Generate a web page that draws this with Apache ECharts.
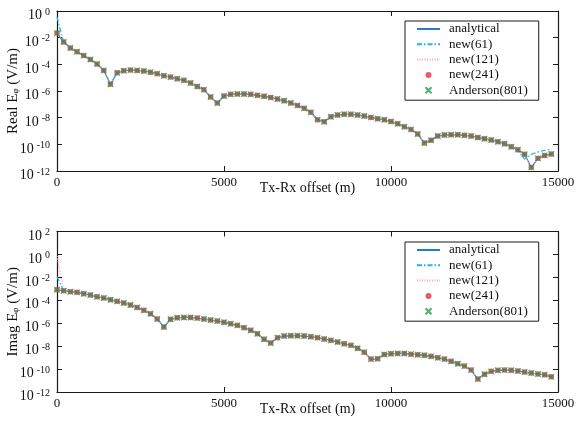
<!DOCTYPE html>
<html>
<head>
<meta charset="utf-8">
<script src="https://cdn.jsdelivr.net/npm/echarts@6/dist/echarts.min.js"></script>
<style>
  html, body { margin: 0; padding: 0; background: #fff; }
  #chart { width: 583px; height: 421px; }
</style>
</head>
<body>
<div id="chart"></div>
<script>
// Transmitter-receiver offsets (m)
const offsets = [
  0, 200, 400, 600, 800, 1000, 1200, 1400, 1600, 1800,
  2000, 2200, 2400, 2600, 2800, 3000, 3200, 3400, 3600, 3800,
  4000, 4200, 4400, 4600, 4800, 5000, 5200, 5400, 5600, 5800,
  6000, 6200, 6400, 6600, 6800, 7000, 7200, 7400, 7600, 7800,
  8000, 8200, 8400, 8600, 8800, 9000, 9200, 9400, 9600, 9800,
  10000, 10200, 10400, 10600, 10800, 11000, 11200, 11400, 11600, 11800,
  12000, 12200, 12400, 12600, 12800, 13000, 13200, 13400, 13600, 13800,
  14000, 14200, 14400, 14600, 14800
];

// Real part of E-phi (V/m), analytical solution
const realAnalytical = [
  2.2e-2, 4.7e-3, 1.7e-3, 8.9e-4, 4.5e-4, 2.3e-4, 1.05e-4, 3.5e-5, 3.2e-6, 2.3e-5,
  3.3e-5, 3.7e-5, 3.5e-5, 3.2e-5, 2.6e-5, 2.0e-5, 1.4e-5, 1.1e-5, 8.3e-6, 6.3e-6,
  4.0e-6, 2.2e-6, 1.26e-6, 3.5e-7, 1.26e-7, 4.2e-7, 5.6e-7, 5.9e-7, 5.9e-7, 5.6e-7,
  4.7e-7, 4.0e-7, 3.2e-7, 2.5e-7, 1.86e-7, 1.26e-7, 8.3e-8, 5.0e-8, 2.5e-8, 7.1e-9,
  5.0e-9, 1.17e-8, 1.58e-8, 1.78e-8, 1.78e-8, 1.58e-8, 1.32e-8, 1.05e-8, 8.3e-9, 6.9e-9,
  5.1e-9, 3.5e-9, 2.1e-9, 1.32e-9, 5.9e-10, 1.26e-10, 2.0e-10, 4.2e-10, 5.0e-10, 5.2e-10,
  5.2e-10, 4.7e-10, 4.2e-10, 3.3e-10, 2.6e-10, 2.1e-10, 1.58e-10, 1.12e-10, 6.6e-11, 4.0e-11,
  1.78e-11, 1.86e-12, 8.9e-12, 1.48e-11, 1.86e-11
];
// Digital-filter results for the real part
const realNew61 = [
  3.5e-1, 4.7e-3, 1.7e-3, 8.9e-4, 4.5e-4, 2.3e-4, 1.05e-4, 3.5e-5, 3.2e-6, 2.3e-5,
  3.3e-5, 3.7e-5, 3.5e-5, 3.2e-5, 2.6e-5, 2.0e-5, 1.4e-5, 1.1e-5, 8.3e-6, 6.3e-6,
  4.0e-6, 2.2e-6, 1.26e-6, 3.5e-7, 1.26e-7, 4.2e-7, 5.6e-7, 5.9e-7, 5.9e-7, 5.6e-7,
  4.7e-7, 4.0e-7, 3.2e-7, 2.5e-7, 1.86e-7, 1.26e-7, 8.3e-8, 5.0e-8, 2.5e-8, 7.1e-9,
  5.0e-9, 1.17e-8, 1.58e-8, 1.78e-8, 1.78e-8, 1.58e-8, 1.32e-8, 1.05e-8, 8.3e-9, 6.9e-9,
  5.1e-9, 3.5e-9, 2.1e-9, 1.32e-9, 5.9e-10, 1.26e-10, 2.0e-10, 4.2e-10, 5.0e-10, 5.2e-10,
  5.2e-10, 4.7e-10, 4.2e-10, 3.3e-10, 2.6e-10, 2.1e-10, 1.58e-10, 1.12e-10, 6.6e-11, 3.2e-11,
  7.9e-12, 1.78e-11, 2.7e-11, 3.5e-11, 4.2e-11
];
const realNew121 = realAnalytical;
const realNew241 = realAnalytical;
const realAnderson = realAnalytical;

// Imaginary part of E-phi (V/m), analytical solution
const imagAnalytical = [
  8.3e-4, 6.9e-4, 5.6e-4, 4.9e-4, 3.7e-4, 2.9e-4, 2.0e-4, 1.58e-4, 1.12e-4, 8.1e-5,
  5.8e-5, 3.9e-5, 2.4e-5, 1.32e-5, 6.8e-6, 2.3e-6, 4.7e-7, 2.2e-6, 3.0e-6, 3.2e-6,
  3.2e-6, 2.8e-6, 2.3e-6, 1.9e-6, 1.55e-6, 1.23e-6, 8.9e-7, 6.5e-7, 4.1e-7, 2.4e-7,
  1.2e-7, 4.0e-8, 1.86e-8, 5.5e-8, 7.6e-8, 8.1e-8, 8.1e-8, 7.6e-8, 6.6e-8, 5.5e-8,
  4.2e-8, 3.2e-8, 2.3e-8, 1.62e-8, 1.17e-8, 6.5e-9, 3.0e-9, 7.4e-10, 7.9e-10, 1.86e-9,
  2.2e-9, 2.3e-9, 2.3e-9, 2.0e-9, 1.78e-9, 1.58e-9, 1.29e-9, 9.8e-10, 7.4e-10, 4.7e-10,
  2.9e-10, 1.82e-10, 8.1e-11, 1.35e-11, 3.5e-11, 6.3e-11, 7.8e-11, 8.1e-11, 7.8e-11, 6.8e-11,
  5.5e-11, 4.5e-11, 3.7e-11, 3.2e-11, 2.1e-11
];
// Digital-filter results for the imaginary part (they differ only at zero offset)
const imagNew61Near = 1.15e-2;
const imagNew121Near = 7.0e-1;
const imagNew61 = [imagNew61Near].concat(imagAnalytical.slice(1));
const imagNew121 = [imagNew121Near].concat(imagAnalytical.slice(1));
const imagNew241 = imagAnalytical;
const imagAnderson = imagAnalytical;

// Axis ranges and tick values
const xTicks = [0, 5000, 10000, 15000];
const realRange = [1e-12, 1e0];
const imagRange = [1e-12, 1e2];

const names = ['analytical', 'new(61)', 'new(121)', 'new(241)', 'Anderson(801)'];
const colors = {
  analytical: '#2878cc',
  n61: '#22b2ec',
  n121: '#f4a3c6',
  n241: '#e5304a',
  anderson: '#1f9e45'
};

const FONT = '"Liberation Serif", "Times New Roman", serif';
const CROSS = 'path://M0,0L10,10M10,0L0,10';

function pairs(xs, ys) { return xs.map((x, i) => [x, ys[i]]); }

function expLabel(v) {
  const e = Math.round(Math.log10(v));
  return '{b|10}{s|' + e + '}';
}

const labelRich = {
  b: { fontFamily: FONT, fontSize: 14, color: '#111', padding: [9, 0, 0, 0] },
  s: { fontFamily: FONT, fontSize: 10, color: '#111', padding: [2, 0, 0, 3] }
};

function xAxes(grid) {
  const common = {
    type: 'value', gridIndex: grid, min: xTicks[0], max: xTicks[xTicks.length - 1],
    interval: xTicks[1] - xTicks[0],
    axisLine: { show: true, onZero: false, lineStyle: { color: '#1a1a1a', width: 1.2 } },
    axisTick: { show: true, inside: true, length: 5, lineStyle: { color: '#1a1a1a' } },
    splitLine: { show: false }
  };
  return [
    Object.assign({}, common, {
      position: 'bottom',
      name: 'Tx-Rx offset (m)', nameLocation: 'middle', nameGap: 10, nameMoveOverlap: false,
      nameTextStyle: { fontFamily: FONT, fontSize: 14, color: '#111' },
      axisLabel: { fontFamily: FONT, fontSize: 13, color: '#111', margin: 5,
        formatter: (v) => String(v) }
    }),
    Object.assign({}, common, { position: 'top', axisLabel: { show: false } })
  ];
}

function yAxes(grid, range, title) {
  const common = {
    type: 'log', logBase: 100, gridIndex: grid, min: range[0], max: range[1],
    axisLine: { show: true, onZero: false, lineStyle: { color: '#1a1a1a', width: 1.2 } },
    axisTick: { show: true, inside: true, length: 5, lineStyle: { color: '#1a1a1a' } },
    minorTick: { show: false },
    splitLine: { show: false }
  };
  return [
    Object.assign({}, common, {
      position: 'left',
      name: '{n|' + title + ' E}{sub|φ}{n| (V/m)}', nameLocation: 'middle', nameGap: 36,
      nameMoveOverlap: false,
      nameTextStyle: {
        rich: {
          n: { fontFamily: FONT, fontSize: 15, color: '#111' },
          sub: { fontFamily: FONT, fontSize: 9, color: '#111', padding: [5, 0, 0, 0] }
        }
      },
      axisLabel: { formatter: expLabel, rich: labelRich, margin: 7 }
    }),
    Object.assign({}, common, { position: 'right', axisLabel: { show: false } })
  ];
}

function panelSeries(grid, d) {
  const xi = grid * 2, yi = grid * 2;
  return [
    { name: names[0], type: 'line', xAxisIndex: xi, yAxisIndex: yi, symbol: 'none',
      data: pairs(offsets, d.analytical), color: colors.analytical,
      lineStyle: { width: 1.2, color: colors.analytical }, z: 2 },
    { name: names[1], type: 'line', xAxisIndex: xi, yAxisIndex: yi, symbol: 'none',
      data: pairs(offsets, d.n61), color: colors.n61,
      lineStyle: { width: 1.2, color: colors.n61, type: [5, 2, 1.5, 2] }, z: 2 },
    { name: names[2], type: 'line', xAxisIndex: xi, yAxisIndex: yi, symbol: 'none',
      data: pairs(offsets, d.n121), color: colors.n121,
      lineStyle: { width: 1.2, color: colors.n121, type: [1, 1.5] }, z: 2 },
    { name: names[3], type: 'scatter', xAxisIndex: xi, yAxisIndex: yi, symbol: 'circle', symbolSize: 5.5,
      data: pairs(offsets, d.n241), itemStyle: { color: colors.n241 }, z: 3 },
    { name: names[4], type: 'scatter', xAxisIndex: xi, yAxisIndex: yi, symbol: CROSS, symbolSize: 5.5,
      data: pairs(offsets, d.anderson),
      itemStyle: { color: 'none', borderColor: colors.anderson, borderWidth: 1.3 }, z: 4 }
  ];
}

function legendAt(top) {
  return {
    orient: 'vertical', left: 405, top: top,
    backgroundColor: '#fff', borderColor: '#1a1a1a', borderWidth: 1,
    padding: [1.5, 11, 3.5, 11], itemGap: 2.3, itemWidth: 23, itemHeight: 6,
    selectedMode: false,
    textStyle: { fontFamily: FONT, fontSize: 13, color: '#111', padding: [0, 0, 0, 4] },
    data: [
      { name: names[0], itemStyle: { opacity: 0 } },
      { name: names[1], itemStyle: { opacity: 0 } },
      { name: names[2], itemStyle: { opacity: 0 } },
      { name: names[3] },
      { name: names[4] }
    ]
  };
}

const chart = echarts.init(document.getElementById('chart'), null, { renderer: 'canvas' });
chart.setOption({
  animation: false,
  backgroundColor: '#fff',
  grid: [
    { left: 57, top: 11, width: 501, height: 160, outerBoundsMode: 'none', containLabel: false },
    { left: 57, top: 231.5, width: 501, height: 160.5, outerBoundsMode: 'none', containLabel: false }
  ],
  xAxis: xAxes(0).concat(xAxes(1)),
  yAxis: yAxes(0, realRange, 'Real').concat(yAxes(1, imagRange, 'Imag')),
  legend: [legendAt(21), legendAt(242)],
  series: panelSeries(0, {
    analytical: realAnalytical, n61: realNew61, n121: realNew121,
    n241: realNew241, anderson: realAnderson
  }).concat(panelSeries(1, {
    analytical: imagAnalytical, n61: imagNew61, n121: imagNew121,
    n241: imagNew241, anderson: imagAnderson
  }))
});
</script>
</body>
</html>
